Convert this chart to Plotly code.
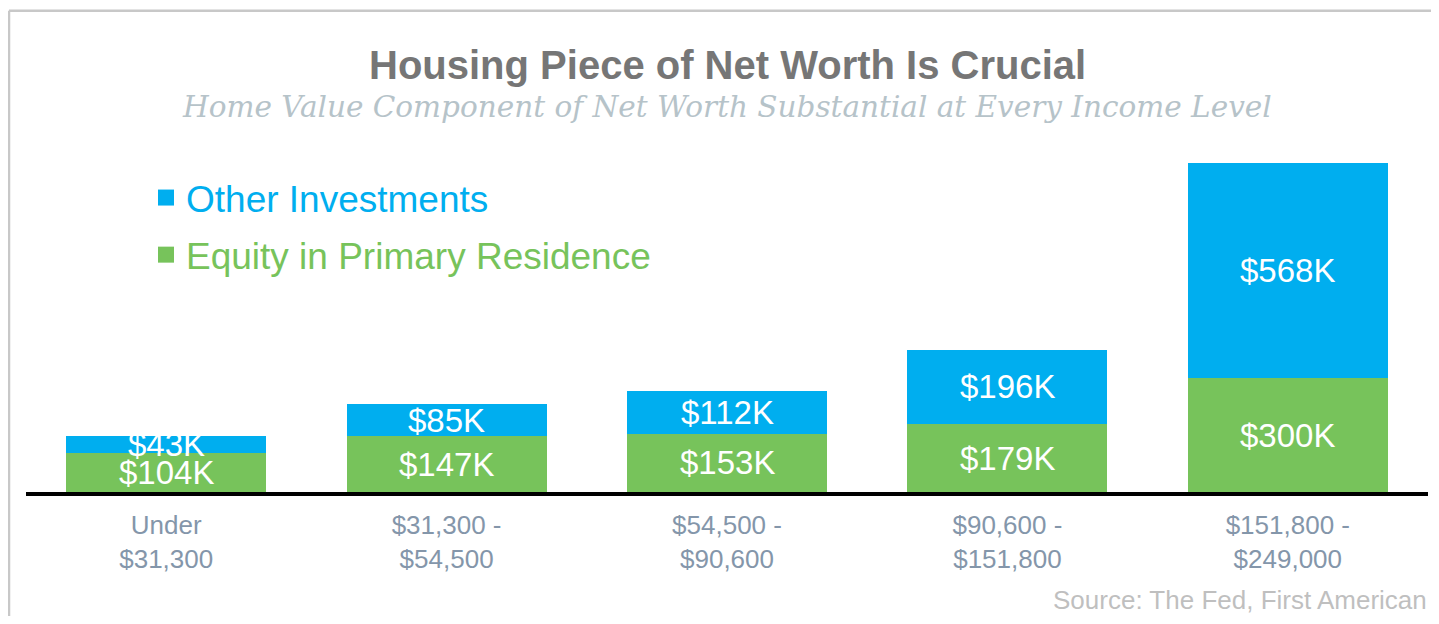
import plotly.graph_objects as go

categories = ["Under<br>$31,300", "$31,300 -<br>$54,500", "$54,500 -<br>$90,600",
              "$90,600 -<br>$151,800", "$151,800 -<br>$249,000"]
equity = [104, 147, 153, 179, 300]
other = [43, 85, 112, 196, 568]
equity_labels = ["$104K", "$147K", "$153K", "$179K", "$300K"]
other_labels = ["$43K", "$85K", "$112K", "$196K", "$568K"]
series_names = ["Other Investments", "Equity in Primary Residence"]

BLUE = "#00AEEF"
GREEN = "#77C35B"
FONT = "Liberation Sans, Arial, sans-serif"

# the page body adds an 8px margin; figure coordinates = screen coordinates - 8
OFF = 8
W, H = 1423, 608
ML, MR, MT, MB = 18, 3, 154, 124
plot_w = W - ML - MR
plot_h = H - MT - MB


def px_x(screen):
    return (screen - OFF - ML) / plot_w


def px_y(screen):
    return (H - MB - (screen - OFF)) / plot_h


fig = go.Figure()
fig.add_trace(go.Bar(x=categories, y=equity, name=series_names[1], showlegend=False,
                     marker=dict(color=GREEN, line=dict(width=0)), hoverinfo="skip"))
fig.add_trace(go.Bar(x=categories, y=other, name=series_names[0], showlegend=False,
                     marker=dict(color=BLUE, line=dict(width=0)), hoverinfo="skip"))
# legend entries with larger square swatches
for nm, col, grp in [(series_names[0], BLUE, "a"), (series_names[1], GREEN, "b")]:
    fig.add_trace(go.Scatter(x=[None], y=[None], mode="markers", legendgroup=grp,
                             name=f"<span style='color:{col}'>{nm}</span>",
                             marker=dict(symbol="square", size=17, color=col), hoverinfo="skip"))

annotations = []
for c, e, o, el, ol in zip(categories, equity, other, equity_labels, other_labels):
    annotations.append(dict(x=c, y=e / 2, xref="x", yref="y", text=el, showarrow=False,
                            font=dict(family=FONT, size=33, color="white")))
    annotations.append(dict(x=c, y=e + o / 2, xref="x", yref="y", text=ol, showarrow=False,
                            font=dict(family=FONT, size=33, color="white")))

annotations.append(dict(x=px_x(727), y=px_y(65), xref="paper", yref="paper",
                        text="<b>Housing Piece of Net Worth Is Crucial</b>",
                        showarrow=False, font=dict(family=FONT, size=40, color="#767676"), yanchor="middle"))
annotations.append(dict(x=px_x(726.5), y=px_y(107), xref="paper", yref="paper",
                        text="<i>Home Value Component of Net Worth Substantial at Every Income Level</i>",
                        showarrow=False, font=dict(family="DejaVu Serif, Georgia, serif", size=29.5, color="#B6C3C9"),
                        yanchor="middle"))
annotations.append(dict(x=px_x(1429), y=px_y(600), xref="paper", yref="paper",
                        text="Source: The Fed, First American",
                        showarrow=False, xanchor="right", yanchor="middle",
                        font=dict(family=FONT, size=26, color="#BFBFBF")))

shapes = [
    dict(type="line", xref="paper", yref="paper", x0=px_x(9), x1=px_x(W + 30), y0=px_y(10.7), y1=px_y(10.7),
         line=dict(color="#C8C8C8", width=2.5)),
    dict(type="line", xref="paper", yref="paper", x0=px_x(9), x1=px_x(9), y0=px_y(10.7), y1=px_y(H + 30),
         line=dict(color="#C8C8C8", width=2.5)),
]

fig.update_layout(
    width=W, height=H,
    barmode="stack", bargap=0.287,
    margin=dict(l=ML, r=MR, t=MT, b=MB, autoexpand=False),
    paper_bgcolor="white", plot_bgcolor="white",
    showlegend=True,
    legend=dict(x=px_x(146), y=px_y(167), xanchor="left", yanchor="top", traceorder="grouped",
                font=dict(family=FONT, size=37), tracegroupgap=6, bgcolor="rgba(0,0,0,0)", itemclick=False,
                itemsizing="trace"),
    xaxis=dict(showline=True, linecolor="black", linewidth=4, ticks="", showgrid=False,
               tickfont=dict(family=FONT, size=26, color="#8496AA"), fixedrange=True,
               ticklabelstandoff=7),
    yaxis=dict(range=[0, 870], visible=False, showgrid=False, fixedrange=True),
    annotations=annotations,
    shapes=shapes,
)

fig.write_html("out.html")
